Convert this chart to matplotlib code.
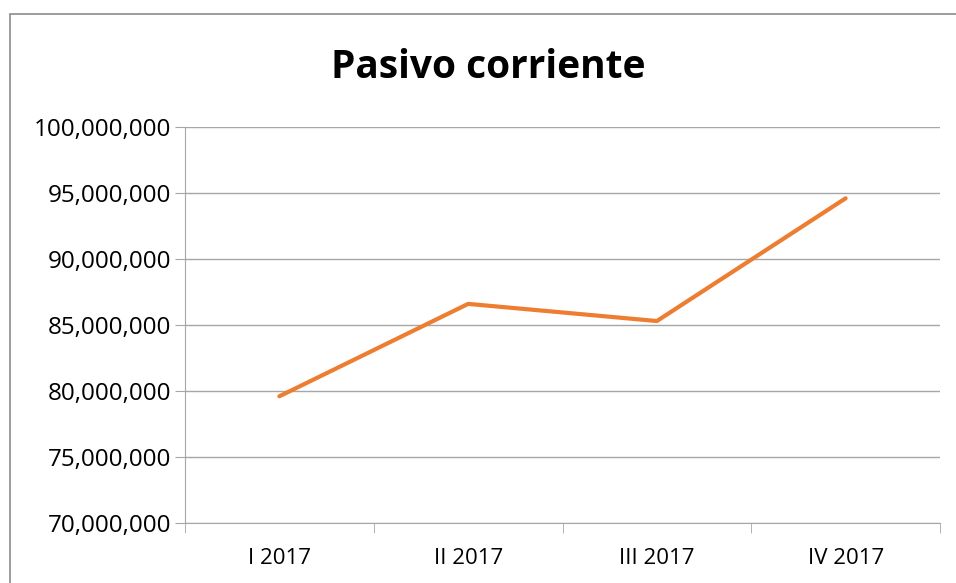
import matplotlib.pyplot as plt
import matplotlib.ticker as mticker
from matplotlib.patches import Rectangle
import numpy as np

quarters = ['I 2017', 'II 2017', 'III 2017', 'IV 2017']
pasivo = [79600000, 86600000, 85300000, 94600000]

plt.rcParams['font.family'] = ['Open Sans', 'DejaVu Sans']

fig = plt.figure(figsize=(9.56, 5.83), dpi=100)
ax = fig.add_axes([185/956, 60/583, 755/956, 396/583])

# outer chart frame
fig.patches.append(Rectangle((10/956, -0.1), 1.2, 1.1 - 14/583,
                             transform=fig.transFigure, fill=False,
                             edgecolor='#8c8c8c', lw=1.2))

x = np.arange(len(quarters))
ax.plot(x, pasivo, color='#ED7D31', lw=3, solid_capstyle='round')

ax.set_xlim(-0.5, len(quarters) - 0.5)
ax.set_ylim(70000000, 100000000)
ax.yaxis.set_major_locator(mticker.MultipleLocator(5000000))
ax.yaxis.set_major_formatter(mticker.FuncFormatter(lambda v, p: f'{v:,.0f}'))
ax.set_xticks(x)
ax.set_xticklabels(quarters)
ax.set_xticks(np.arange(-0.5, len(quarters)), minor=True)

ax.tick_params(axis='x', which='major', length=0, pad=18, labelsize=16)
ax.tick_params(axis='x', which='minor', length=7, color='#a6a6a6', direction='out')
ax.tick_params(axis='y', length=7, color='#a6a6a6', labelsize=17.5, pad=3)

ax.grid(axis='y', color='#a6a6a6', lw=1)
ax.set_axisbelow(True)
for s in ['top', 'right']:
    ax.spines[s].set_visible(False)
for s in ['left', 'bottom']:
    ax.spines[s].set_color('#a6a6a6')

fig.text(488/956, 1 - 68/583, 'Pasivo corriente', ha='center', va='center',
         fontsize=28, fontweight='bold')

fig.savefig('out.png', dpi=100)
